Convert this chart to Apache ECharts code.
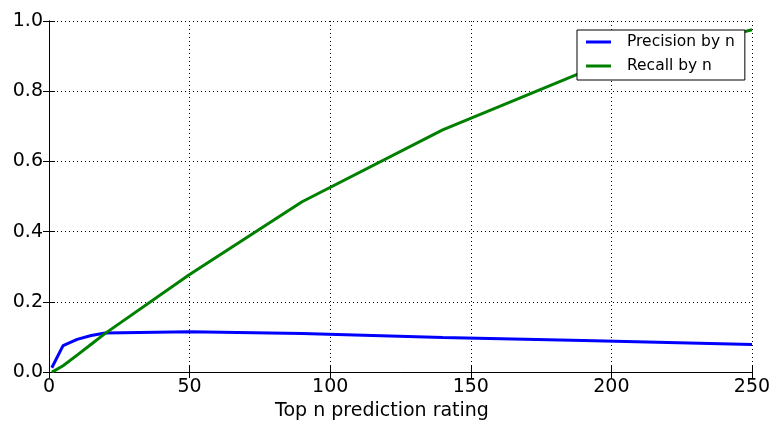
<!DOCTYPE html>
<html>
<head>
<meta charset="utf-8">
<script src="https://cdn.jsdelivr.net/npm/echarts@6/dist/echarts.min.js"></script>
<style>
  html, body { margin: 0; padding: 0; background: #fff; }
  #chart { width: 775px; height: 426px; }
</style>
</head>
<body>
<div id="chart"></div>
<script>
// values
const precisionN = [1, 5, 10, 15, 20, 50, 90, 140, 190, 250];
const precisionVals = [0.012, 0.075, 0.093, 0.104, 0.111, 0.115, 0.110, 0.098, 0.090, 0.078];
const recallN = [1, 2, 5, 10, 15, 20, 50, 90, 140, 190, 250];
const recallVals = [0.0, 0.004, 0.018, 0.048, 0.079, 0.110, 0.278, 0.485, 0.690, 0.855, 0.975];
const seriesNames = ['Precision by n', 'Recall by n'];

const font = 'DejaVu Sans';

function pairs(xs, ys) {
  return xs.map((x, i) => [x, ys[i]]);
}

const frameAxis = {
  show: true,
  axisLine: { show: true, lineStyle: { color: '#000', width: 1 } },
  axisTick: { show: true, inside: true, length: 6, lineStyle: { color: '#000' } },
  axisLabel: { show: false },
  splitLine: { show: false }
};

const option = {
  animation: false,
  backgroundColor: '#fff',
  grid: { left: 49, right: 23, top: 21, bottom: 53, containLabel: false },
  legend: {
    orient: 'vertical',
    left: 577,
    top: 30,
    padding: [3, 10, 5, 9],
    backgroundColor: '#fff',
    borderColor: '#000',
    borderWidth: 1,
    borderRadius: 0,
    itemWidth: 25,
    itemHeight: 3,
    itemGap: 6,
    icon: 'rect',
    textStyle: { fontFamily: font, fontSize: 15.5, color: '#000', lineHeight: 18, padding: [0, 0, 0, 11] },
    data: seriesNames
  },
  xAxis: [
    {
      type: 'value',
      min: 0, max: 250, interval: 50,
      position: 'bottom',
      name: 'Top n prediction rating',
      nameLocation: 'middle',
      nameGap: 30,
      nameTextStyle: { fontFamily: font, fontSize: 19, color: '#000', padding: [0, 37, 0, 0] },
      axisLine: { show: true, onZero: false, lineStyle: { color: '#000', width: 1 } },
      axisTick: { show: true, inside: true, length: 6, lineStyle: { color: '#000' } },
      axisLabel: { fontFamily: font, fontSize: 19, color: '#000', margin: 6 },
      splitLine: { show: true, lineStyle: { color: '#000', width: 1, type: [1, 3] } }
    },
    Object.assign({ type: 'value', min: 0, max: 250, interval: 50, position: 'top' }, frameAxis)
  ],
  yAxis: [
    {
      type: 'value',
      min: 0, max: 1, interval: 0.2,
      position: 'left',
      axisLine: { show: true, onZero: false, lineStyle: { color: '#000', width: 1 } },
      axisTick: { show: true, inside: true, length: 6, lineStyle: { color: '#000' } },
      axisLabel: {
        fontFamily: font, fontSize: 19, color: '#000', margin: 6,
        formatter: v => v.toFixed(1)
      },
      splitLine: { show: true, lineStyle: { color: '#000', width: 1, type: [1, 3] } }
    },
    Object.assign({ type: 'value', min: 0, max: 1, interval: 0.2, position: 'right' }, frameAxis)
  ],
  series: [
    {
      name: seriesNames[0],
      type: 'line',
      xAxisIndex: 0, yAxisIndex: 0,
      data: pairs(precisionN, precisionVals),
      showSymbol: false,
      symbol: 'none',
      lineStyle: { color: '#0000ff', width: 3 },
      itemStyle: { color: '#0000ff' }
    },
    {
      name: seriesNames[1],
      type: 'line',
      xAxisIndex: 0, yAxisIndex: 0,
      data: pairs(recallN, recallVals),
      showSymbol: false,
      symbol: 'none',
      lineStyle: { color: '#008000', width: 3 },
      itemStyle: { color: '#008000' }
    }
  ]
};

const chart = echarts.init(document.getElementById('chart'), null, { renderer: 'canvas' });
chart.setOption(option);
</script>
</body>
</html>
